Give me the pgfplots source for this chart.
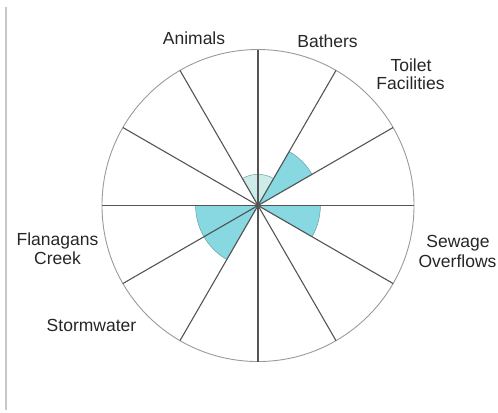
\documentclass[border=0pt]{standalone}
\usepackage{pgfplots}
\pgfplotsset{compat=1.18}
\usepackage{pgfplotstable}
\usepackage{fontspec}
\setmainfont{Liberation Sans}
\definecolor{col1}{HTML}{CDEBE8}
\definecolor{col2}{HTML}{88D8E2}
\definecolor{spoke}{HTML}{555555}
\definecolor{rim}{HTML}{9A9A9A}
\definecolor{edge}{HTML}{6A9FA6}
\definecolor{frame}{HTML}{C8C8C8}

% sector: start angle, end angle, value (0-5 scale), colour class
\pgfplotstableread{
a0  a1  v c
90  120 1 1
120 150 0 1
150 180 0 1
180 210 2 2
210 240 2 2
240 270 0 1
270 300 0 1
300 330 0 1
330 360 2 2
0   30  0 1
30  60  2 2
60  90  1 1
}\sectors

\begin{document}
\begin{tikzpicture}
\begin{axis}[
  disabledatascaling,
  x=31.2pt, y=31.2pt,
  xmin=-8.269, xmax=7.692,
  ymin=-6.619, ymax=6.587,
  hide axis, clip=false,
]
\pgfplotsforeachungrouped \i in {0,...,11}{%
  \pgfplotstablegetelem{\i}{a0}\of\sectors \let\aa\pgfplotsretval
  \pgfplotstablegetelem{\i}{a1}\of\sectors \let\bb\pgfplotsretval
  \pgfplotstablegetelem{\i}{v}\of\sectors \let\vv\pgfplotsretval
  \pgfplotstablegetelem{\i}{c}\of\sectors \let\cc\pgfplotsretval
  \ifdim\vv pt>0pt
    \edef\cmd{\noexpand\filldraw[fill=col\cc, draw=edge, line width=0.5pt]
      (axis cs:0,0) -- (axis cs:{\vv*cos(\aa)},{\vv*sin(\aa)})
      arc[start angle=\aa, end angle=\bb, radius=\vv*31.2pt] -- cycle;}%
    \cmd
  \fi
}
\draw[rim, line width=0.9pt] (axis cs:0,0) circle[radius=5*31.2pt];
\pgfplotsinvokeforeach{0,30,60,90,120,150}{%
  \draw[spoke, line width=1.1pt] (axis cs:{5*cos(#1)},{5*sin(#1)}) -- (axis cs:{-5*cos(#1)},{-5*sin(#1)});
}
\draw[frame, line width=1.4pt] (axis cs:-8.077,6.362) -- (axis cs:-8.077,-6.554);
\begin{scope}[every node/.style={anchor=base, inner sep=0pt, font=\fontsize{17.5}{19}\selectfont, text=black!85}]
\node at (axis cs:-2.051,5.176) {Animals};
\node at (axis cs:2.228,5.080) {Bathers};
\node at (axis cs:4.904,4.311) {Toilet};
\node at (axis cs:4.888,3.718) {Facilities};
\node at (axis cs:6.410,-1.346) {Sewage};
\node at (axis cs:6.394,-1.971) {Overflows};
\node at (axis cs:-6.426,-1.282) {Flanagans};
\node at (axis cs:-6.426,-1.875) {Creek};
\node at (axis cs:-5.337,-4.022) {Stormwater};
\end{scope}
\coordinate (bl) at (rel axis cs:0,0);
\coordinate (tr) at (rel axis cs:1,1);
\end{axis}
\pgfresetboundingbox
\path (bl) rectangle (tr);
\end{tikzpicture}
\end{document}
